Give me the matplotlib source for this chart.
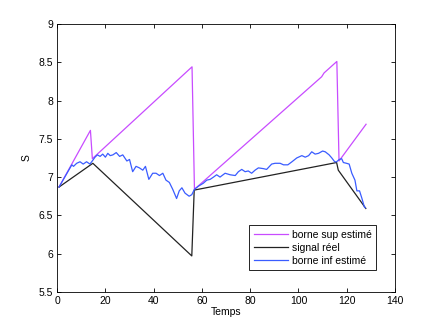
import numpy as np
import matplotlib
matplotlib.use('Agg')
import matplotlib.pyplot as plt

# borne sup estimé
t_sup = [0.8, 13.8, 14.6, 55.9, 56.9, 109.6, 110.6, 115.9, 116.8, 128]
s_sup = [6.87, 7.61, 7.24, 8.44, 6.84, 8.31, 8.36, 8.51, 7.21, 7.69]

# signal réel
t_sig = [0.8, 14.8, 55.8, 56.8, 115.8, 116.5, 127.9]
s_sig = [6.87, 7.18, 5.97, 6.83, 7.19, 7.09, 6.59]

# borne inf estimé
t_inf = [0.8, 6.1, 6.8, 8.1, 9.5, 10.8, 12.2, 13.6, 14.8, 15.7, 16.7, 17.8, 18.9, 20.0,
         21.0, 22.0, 23.1, 24.5, 25.9, 27.2, 28.9, 30.0, 31.3, 32.7, 34.1, 35.5, 36.6,
         38.0, 39.6, 41.0, 42.4, 43.8, 45.1, 46.5, 47.9, 49.5, 50.6, 51.7, 53.0, 54.7,
         55.8, 56.9, 58.5, 60.6, 62.0, 63.4, 64.8, 66.1, 67.5, 69.6, 71.7, 73.8, 75.1,
         76.5, 77.9, 79.2, 80.6, 82.0, 83.4, 85.5, 86.8, 88.9, 90.3, 92.4, 93.8, 95.6,
         97.3, 99.3, 101.4, 102.8, 104.2, 105.5, 106.9, 108.3, 110.0, 111.1, 112.7,
         113.8, 115.0, 115.8, 116.9, 117.9, 118.6, 119.9, 121.0, 122.1, 123.4, 124.2,
         125.3, 126.3, 127.3, 127.7]
s_inf = [6.87, 7.16, 7.14, 7.18, 7.20, 7.17, 7.20, 7.17, 7.22, 7.26, 7.29, 7.27, 7.30, 7.26,
         7.31, 7.28, 7.29, 7.32, 7.27, 7.29, 7.21, 7.23, 7.07, 7.14, 7.12, 7.09, 7.14,
         6.97, 7.05, 7.05, 7.02, 7.05, 6.96, 6.93, 6.84, 6.72, 6.82, 6.86, 6.79, 6.75,
         6.77, 6.84, 6.88, 6.92, 6.96, 6.97, 7.00, 7.03, 7.00, 7.05, 7.03, 7.02, 7.07,
         7.10, 7.07, 7.08, 7.05, 7.09, 7.12, 7.11, 7.10, 7.17, 7.18, 7.18, 7.16, 7.16,
         7.20, 7.25, 7.28, 7.26, 7.28, 7.33, 7.30, 7.31, 7.34, 7.33, 7.29,
         7.25, 7.20, 7.20, 7.23, 7.24, 7.19, 7.18, 7.17, 7.05, 6.96, 6.82,
         6.82, 6.72, 6.61, 6.60]

plt.rcParams['font.family'] = 'Liberation Sans'
plt.rcParams['font.size'] = 7.5

fig = plt.figure(figsize=(4.36, 3.28), dpi=100)
ax = fig.add_axes([0.131, 0.110, 0.775, 0.817])

ax.plot(t_sup, s_sup, color='#c84cff', lw=0.9, label='borne sup estimé')
ax.plot(t_sig, s_sig, color='#222222', lw=0.9, label='signal réel')
ax.plot(t_inf, s_inf, color='#3a5cff', lw=0.9, label='borne inf estimé')

ax.set_xlim(0, 140)
ax.set_ylim(5.5, 9)
ax.set_xticks(np.arange(0, 141, 20))
ax.set_yticks(np.arange(5.5, 9.01, 0.5))
ax.set_yticklabels(['5.5', '6', '6.5', '7', '7.5', '8', '8.5', '9'])
ax.tick_params(direction='in', top=True, right=True, length=3, width=0.6, pad=3)
for s in ax.spines.values():
    s.set_linewidth(0.6)

ax.set_xlabel('Temps', labelpad=1)
ax.set_ylabel('S', labelpad=5)

leg = ax.legend(loc='lower right', bbox_to_anchor=(0.944, 0.082), borderaxespad=0,
                fancybox=False, edgecolor='black', framealpha=1, borderpad=0.4,
                handlelength=3.3, handletextpad=0.4, labelspacing=0.3)
leg.get_frame().set_linewidth(0.6)

fig.savefig('out.png', dpi=100)
